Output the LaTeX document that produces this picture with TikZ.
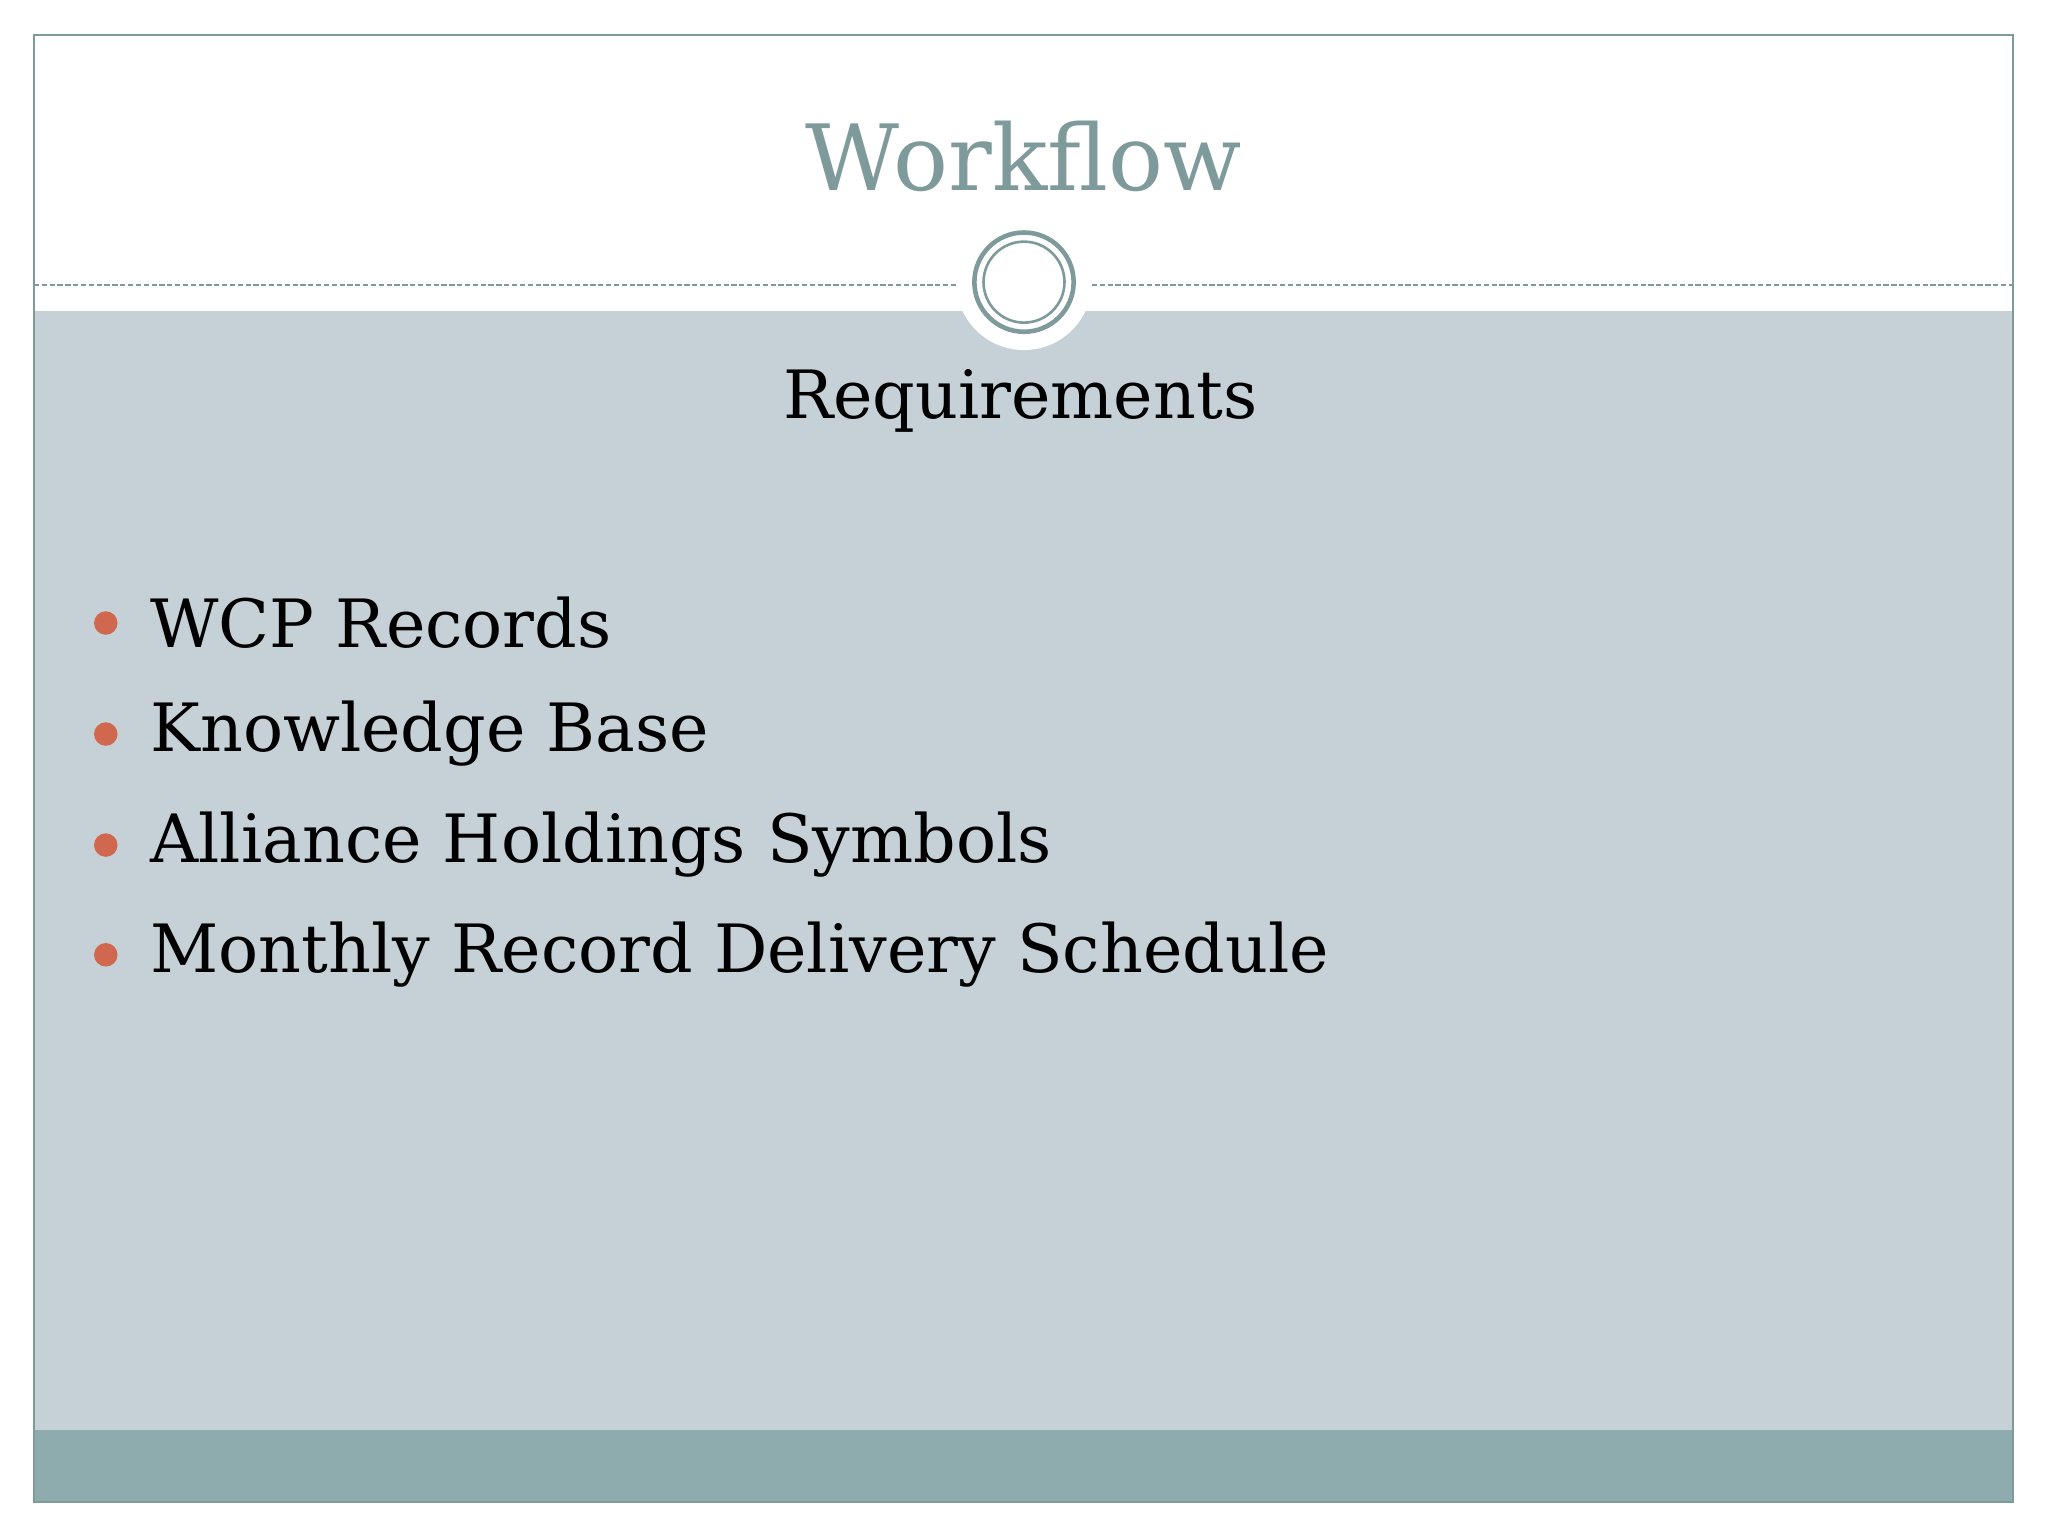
\documentclass[tikz,border=0pt]{standalone}
\usepackage{fontspec}
\setmainfont{DejaVu Serif}
\definecolor{frame}{HTML}{7F9A9A}
\definecolor{body}{HTML}{C5D1D7}
\definecolor{band}{HTML}{8EABAD}
\definecolor{dot}{HTML}{D0684F}
\tikzset{item/.style={anchor=west,font=\fontsize{51}{60}\selectfont,inner sep=0pt},
bul/.style={circle,fill=dot,minimum size=18pt,inner sep=0pt}}
\begin{document}
\begin{tikzpicture}[x=1pt,y=-1pt]
\useasboundingbox (0,0) rectangle (1568,1176);
\fill[white] (0,0) rectangle (1568,1176);
\fill[body] (26,238) rectangle (1541,1095);
\fill[band] (26,1095) rectangle (1541,1150);
\draw[frame,line width=1.5pt] (26,27) rectangle (1541,1150);
\draw[frame,dash pattern=on 4pt off 2pt,line width=1.2pt] (26,218) -- (1541,218);
\fill[white] (784,216) circle (52);
\draw[frame,line width=3.5pt] (784,216) circle (38);
\draw[frame,line width=2pt] (784,216) circle (31);
\node[frame,font=\fontsize{70}{80}\selectfont] (t) at (784,120) {Workflow};
\node[font=\fontsize{51}{60}\selectfont] (r) at (781,307) {Requirements};
\foreach \y/\t [count=\i] in {477/WCP Records,562/Knowledge Base,647/Alliance Holdings Symbols,731/Monthly Record Delivery Schedule}{
 \node[bul] (b\i) at (81,\y) {};
 \node[item] (i\i) at (115,\y) {\t};
}
\end{tikzpicture}
\end{document}
